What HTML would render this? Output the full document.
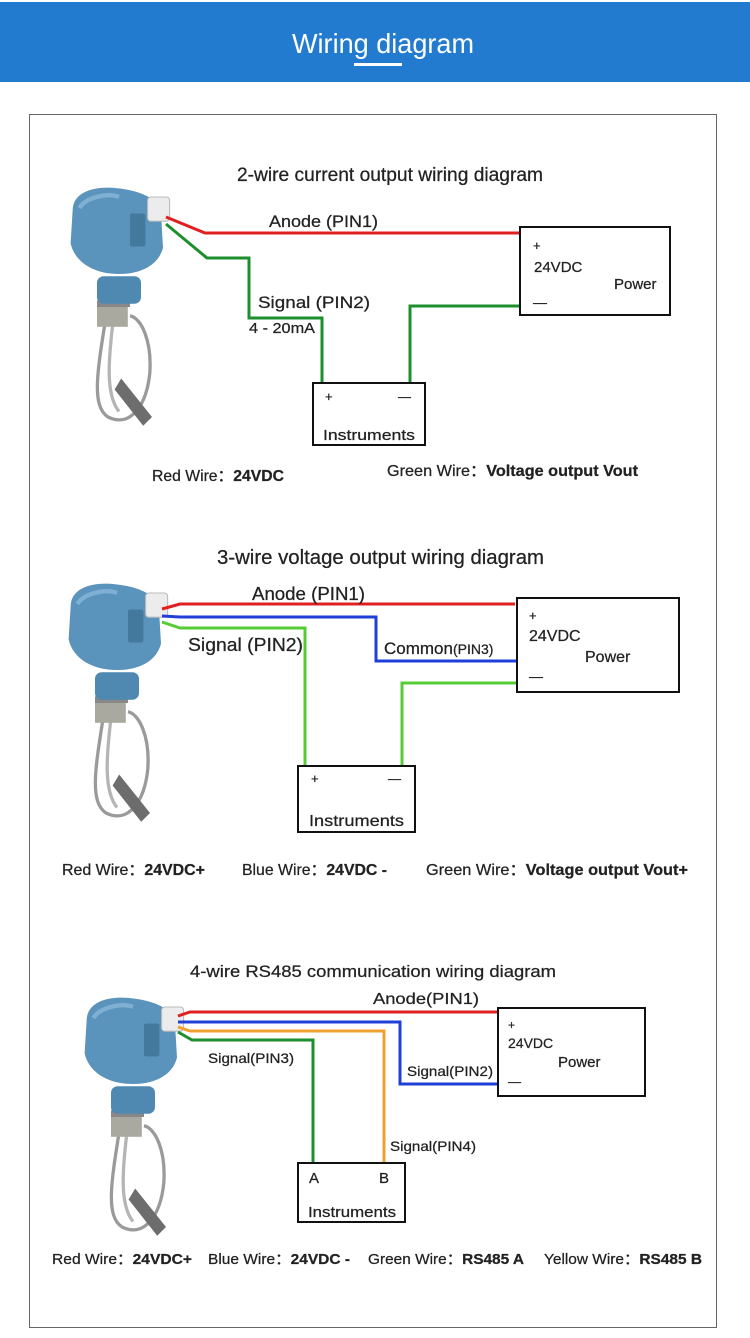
<!DOCTYPE html>
<html><head><meta charset="utf-8"><style>
html,body{margin:0;padding:0;background:#fff;width:750px;height:1338px;overflow:hidden}
svg{display:block}
text{font-family:"Liberation Sans",Arial,sans-serif;fill:#222;stroke:#222;stroke-width:0.25}
</style></head><body>
<svg width="750" height="1338" viewBox="0 0 750 1338" xmlns="http://www.w3.org/2000/svg">
<defs>
<g id="sensor">
  <path d="M38 120 C30 170 25 200 40 210 C60 220 75 200 78 170 C80 140 70 120 60 118" fill="none" stroke="#9a9a9a" stroke-width="3"/>
  <path d="M45 120 C40 160 38 190 50 205" fill="none" stroke="#b5b5b5" stroke-width="3"/>
  <path d="M52 175 L80 210 L72 218 L46 185 Z" fill="#6d6d6d"/>
  <rect x="30" y="108" width="28" height="20" fill="#a9a9a0"/>
  <rect x="30" y="104" width="30" height="6" fill="#888"/>
  <rect x="30" y="82" width="40" height="25" rx="6" fill="#4f88b0"/>
  <path d="M8 20 C10 4 30 0 48 2 C70 4 85 12 88 22 L90 56 C86 72 70 80 50 80 C28 80 10 70 6 52 Z" fill="#5a93bb"/>
  <path d="M14 20 C20 10 40 6 50 10" fill="none" stroke="#7fb0d3" stroke-width="4"/>
  <rect x="60" y="25" width="14" height="30" rx="2" fill="#44799e"/>
  <rect x="76" y="10" width="20" height="22" rx="3" fill="#ececec" stroke="#bbb"/>
</g>
</defs>

<rect x="0" y="2" width="750" height="80" fill="#227bcf"/>
<text x="292" y="53" textLength="182" lengthAdjust="spacingAndGlyphs" font-size="28" style="fill:#fff;stroke:none">Wiring diagram</text>
<rect x="354" y="63" width="48" height="3" fill="#fff"/>

<rect x="29.5" y="114.5" width="687" height="1213" fill="#fff" stroke="#666" stroke-width="1"/>

<!-- Diagram 1 -->
<text x="237" y="181" textLength="306" lengthAdjust="spacingAndGlyphs" font-size="19">2-wire current output wiring diagram</text>
<use href="#sensor" transform="translate(64,186) scale(1.1)"/>
<polyline points="166,217 205,233 520,233" fill="none" stroke="#e02020" stroke-width="3"/>
<polyline points="166,224 207,258 249,258 249,318 322,318 322,384" fill="none" stroke="#1e8f2e" stroke-width="3"/>
<polyline points="520,306 410,306 410,384" fill="none" stroke="#1e8f2e" stroke-width="3"/>
<rect x="520" y="227" width="150" height="88" fill="#fff" stroke="#111" stroke-width="2"/>
<text x="533" y="250" font-size="13">+</text>
<text x="534" y="272" font-size="15">24VDC</text>
<text x="614" y="289" font-size="15">Power</text>
<text x="533" y="307" font-size="14">—</text>
<rect x="313" y="383" width="112" height="62" fill="#fff" stroke="#111" stroke-width="2"/>
<text x="325" y="401" font-size="13">+</text>
<text x="398" y="401" font-size="13">—</text>
<text x="323" y="440" textLength="92" lengthAdjust="spacingAndGlyphs" font-size="15">Instruments</text>
<text x="269" y="227" textLength="109" lengthAdjust="spacingAndGlyphs" font-size="17">Anode (PIN1)</text>
<text x="258" y="308" textLength="112" lengthAdjust="spacingAndGlyphs" font-size="17">Signal  (PIN2)</text>
<text x="249" y="333" textLength="66" lengthAdjust="spacingAndGlyphs" font-size="15">4 - 20mA</text>
<text x="152" y="481" textLength="132" lengthAdjust="spacingAndGlyphs" font-size="16">Red Wire：<tspan font-weight="bold">24VDC</tspan></text>
<text x="387" y="476" textLength="251" lengthAdjust="spacingAndGlyphs" font-size="16">Green Wire：<tspan font-weight="bold">Voltage output Vout</tspan></text>

<!-- Diagram 2 -->
<text x="217" y="564" textLength="327" lengthAdjust="spacingAndGlyphs" font-size="20">3-wire voltage output wiring diagram</text>
<use href="#sensor" transform="translate(62,582) scale(1.1)"/>
<polyline points="162,609 180,604 515,604" fill="none" stroke="#e02020" stroke-width="3"/>
<polyline points="162,616 180,617 376,617 376,661 517,661" fill="none" stroke="#1f3fd8" stroke-width="3"/>
<polyline points="162,622 180,628 305,628 305,766" fill="none" stroke="#55cc33" stroke-width="3"/>
<polyline points="517,683 402,683 402,766" fill="none" stroke="#55cc33" stroke-width="3"/>
<rect x="517" y="598" width="162" height="94" fill="#fff" stroke="#111" stroke-width="2"/>
<text x="529" y="620" font-size="13">+</text>
<text x="529" y="641" font-size="16">24VDC</text>
<text x="585" y="662" font-size="16">Power</text>
<text x="529" y="681" font-size="14">—</text>
<rect x="298" y="766" width="117" height="66" fill="#fff" stroke="#111" stroke-width="2"/>
<text x="311" y="783" font-size="13">+</text>
<text x="388" y="783" font-size="13">—</text>
<text x="309" y="826" textLength="95" lengthAdjust="spacingAndGlyphs" font-size="16">Instruments</text>
<text x="252" y="600" textLength="113" lengthAdjust="spacingAndGlyphs" font-size="18">Anode (PIN1)</text>
<text x="188" y="651" textLength="115" lengthAdjust="spacingAndGlyphs" font-size="18">Signal  (PIN2)</text>
<text x="384" y="654" font-size="17">Common<tspan font-size="14">(PIN3)</tspan></text>
<text x="62" y="875" textLength="143" lengthAdjust="spacingAndGlyphs" font-size="16">Red Wire：<tspan font-weight="bold">24VDC+</tspan></text>
<text x="242" y="875" textLength="145" lengthAdjust="spacingAndGlyphs" font-size="16">Blue Wire：<tspan font-weight="bold">24VDC -</tspan></text>
<text x="426" y="875" textLength="262" lengthAdjust="spacingAndGlyphs" font-size="16">Green Wire：<tspan font-weight="bold">Voltage output Vout+</tspan></text>

<!-- Diagram 3 -->
<text x="190" y="977" textLength="366" lengthAdjust="spacingAndGlyphs" font-size="17">4-wire RS485 communication wiring diagram</text>
<use href="#sensor" transform="translate(78,996) scale(1.1)"/>
<polyline points="178,1016 190,1012 497,1012" fill="none" stroke="#e02020" stroke-width="3"/>
<polyline points="178,1022 190,1022 400,1022 400,1084 498,1084" fill="none" stroke="#1f3fd8" stroke-width="3"/>
<polyline points="178,1027 190,1031 384,1031 384,1163" fill="none" stroke="#f0a030" stroke-width="3"/>
<polyline points="178,1032 192,1040 313,1040 313,1163" fill="none" stroke="#1e8f2e" stroke-width="3"/>
<rect x="498" y="1008" width="147" height="88" fill="#fff" stroke="#111" stroke-width="2"/>
<text x="508" y="1029" font-size="12">+</text>
<text x="508" y="1048" font-size="14">24VDC</text>
<text x="558" y="1067" font-size="15">Power</text>
<text x="508" y="1086" font-size="13">—</text>
<rect x="298" y="1163" width="107" height="59" fill="#fff" stroke="#111" stroke-width="2"/>
<text x="309" y="1183" font-size="15">A</text>
<text x="379" y="1183" font-size="15">B</text>
<text x="308" y="1217" textLength="88" lengthAdjust="spacingAndGlyphs" font-size="15">Instruments</text>
<text x="373" y="1004" textLength="106" lengthAdjust="spacingAndGlyphs" font-size="16">Anode(PIN1)</text>
<text x="208" y="1063" textLength="86" lengthAdjust="spacingAndGlyphs" font-size="14">Signal(PIN3)</text>
<text x="407" y="1076" textLength="86" lengthAdjust="spacingAndGlyphs" font-size="14">Signal(PIN2)</text>
<text x="390" y="1151" textLength="86" lengthAdjust="spacingAndGlyphs" font-size="14">Signal(PIN4)</text>
<text x="52" y="1264" textLength="140" lengthAdjust="spacingAndGlyphs" font-size="15">Red Wire：<tspan font-weight="bold">24VDC+</tspan></text>
<text x="208" y="1264" textLength="142" lengthAdjust="spacingAndGlyphs" font-size="15">Blue Wire：<tspan font-weight="bold">24VDC -</tspan></text>
<text x="368" y="1264" textLength="156" lengthAdjust="spacingAndGlyphs" font-size="15">Green Wire：<tspan font-weight="bold">RS485 A</tspan></text>
<text x="544" y="1264" textLength="158" lengthAdjust="spacingAndGlyphs" font-size="15">Yellow Wire：<tspan font-weight="bold">RS485 B</tspan></text>
</svg>
</body></html>
